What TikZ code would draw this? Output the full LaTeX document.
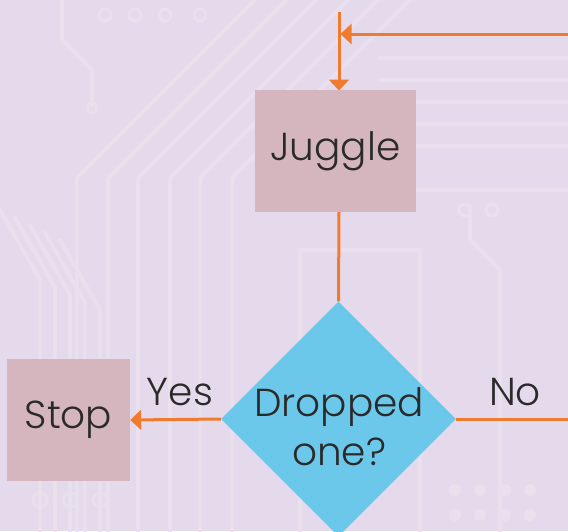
\documentclass[tikz,border=0pt]{standalone}
\usepackage{fontspec}
\setmainfont{Poppins}[UprightFont=* Light]
\usetikzlibrary{shapes.geometric,arrows.meta}
\definecolor{bg}{HTML}{E5DAEB}
\definecolor{trace}{HTML}{E9E0EE}
\definecolor{boxfill}{HTML}{D5B6BE}
\definecolor{diafill}{HTML}{6CC8EA}
\definecolor{flow}{HTML}{F07A2E}
\definecolor{ink}{HTML}{2A2A2A}
\tikzset{
  stepbox/.style={draw=none, fill=boxfill, minimum width=161pt, minimum height=122pt, inner sep=0pt, text=ink, font=\fontsize{39}{47}\selectfont},
  decision/.style={diamond, draw=none, fill=diafill, minimum width=235pt, minimum height=235pt, inner sep=0pt},
  txt/.style={text=ink, font=\fontsize{39}{49}\selectfont, align=center, inner sep=0pt},
  flowline/.style={draw=flow, line width=3pt},
  flowarrow/.style={flowline, -{Triangle[length=11pt,width=20pt]}},
  tracel/.style={draw=trace, line width=4pt, line cap=round, line join=round},
}
\begin{document}
\begin{tikzpicture}[x=1pt,y=-1pt]
\useasboundingbox (0,0) rectangle (568,531);
\fill[bg] (0,0) rectangle (568,531);
% faint circuit traces
\foreach \x/\d in {77/0,108/1,138/2,170/3,200/4,232/5}{
  \draw[tracel] (\x,531) -- (\x,178) -- ++(60+\d*10,-60-\d*10) -- ++(400,-400);
}
\foreach \y in {58,80,102,124,146,190}{
  \draw[tracel] (380,\y) -- (568,\y);
}
\draw[tracel] (62,0) -- (62,40) -- (92,70) -- (92,105);
\draw[trace, line width=3pt] (92,108) circle (5);
\foreach \x in {105,135,165,200}{\draw[trace, line width=3pt] (\x,15) circle (6);}
\foreach \x in {0,15,30,45,60}{\draw[tracel] (\x,210+\x*0.5) -- (\x+40,280+\x*0.5) -- (\x+40,531);}
\draw[tracel] (300,531) -- (300,250) -- (420,250) -- (420,531);
\draw[tracel] (470,210) -- (470,240) -- (500,270) -- (500,531);
\foreach \x in {465,492}{\draw[trace, line width=3pt] (\x,210) circle (6);}
\foreach \x in {455,480,505,530}{\foreach \y in {490,515}{\fill[trace] (\x,\y) circle (6);}}
\foreach \x in {40,70,100}{\draw[trace, line width=3pt] (\x,500) circle (7);}
% flowchart
\node[stepbox] (juggle) at (335.5,151) {Juggle};
\node[stepbox, minimum width=123pt] (stop) at (68.5,420) {Stop};
\node[decision] (drop) at (338.5,419) {};
\node[txt] (droptxt) at (339,427) {Dropped\\one?};
\coordinate (topend) at (339,12);
\coordinate (joint) at (339,34);
\coordinate (rightin) at (568,34);
\coordinate (rightout) at (568,419);
\draw[flowline] (topend) -- (joint);
\draw[flowarrow] (joint) -- (339,90.5);
\draw[flowarrow] (rightin) -- ([xshift=1.5pt]joint);
\draw[flowline] (juggle.south -| 339,0) -- (drop.north);
\draw[flowarrow] (drop.west) -- (stop.east);
\draw[flowline] (drop.east) -- (rightout);
\node[txt] (yes) at (180,392) {Yes};
\node[txt] (no) at (515,392) {No};
\end{tikzpicture}
\end{document}
